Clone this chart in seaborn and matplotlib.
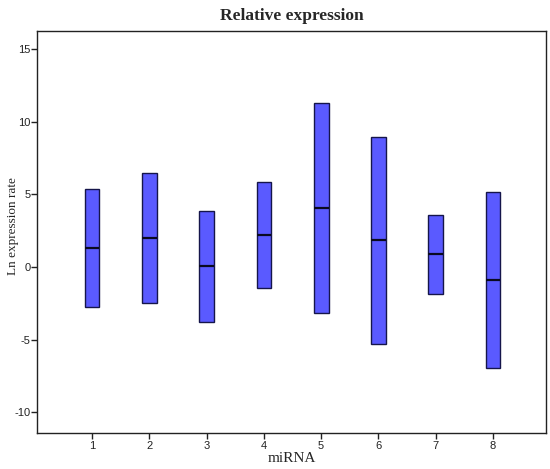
import numpy as np
import pandas as pd
import seaborn as sns
import matplotlib.pyplot as plt

mirna = ["1", "2", "3", "4", "5", "6", "7", "8"]
low = [-2.76, -2.46, -3.79, -1.45, -3.19, -5.28, -1.88, -6.94]
high = [5.38, 6.44, 3.86, 5.86, 11.29, 8.94, 3.59, 5.13]
median = [1.31, 2.00, 0.05, 2.21, 4.07, 1.84, 0.88, -0.90]

df = pd.DataFrame({"miRNA": mirna, "low": low, "high": high, "median": median})
df["range"] = df["high"] - df["low"]

sns.set_style("white")
plt.rcParams["font.family"] = ["Liberation Sans", "DejaVu Sans"]
plt.rcParams["axes.unicode_minus"] = False

fig = plt.figure(figsize=(5.5, 4.69), dpi=100)
ax = fig.add_axes([0.068, 0.0774, 0.925, 0.8571])

bar_w = 0.257
sns.barplot(data=df, x="miRNA", y="range", bottom=df["low"].values,
            width=bar_w, color="#5a5aff", saturation=1,
            edgecolor="#15154a", linewidth=1.0, ax=ax)

# median lines
xpos = np.arange(len(mirna))
ax.hlines(df["median"], xpos - bar_w / 2, xpos + bar_w / 2,
          color="#0a0a20", linewidth=1.6, zorder=3)

ax.set_xlim(-0.956, 7.93)
ax.set_ylim(-11.4, 16.25)
ax.set_yticks([-10, -5, 0, 5, 10, 15])
ax.set_xticks(xpos)
ax.set_xticklabels(mirna)

for s in ax.spines.values():
    s.set_color("#222222")
    s.set_linewidth(1.0)
ax.tick_params(axis="both", bottom=True, left=True, direction="out",
               length=4, width=1, colors="#222222", labelsize=8, pad=2)
ax.tick_params(axis="y", pad=1)

ax.set_xlabel("miRNA", family="Liberation Serif", fontsize=11, labelpad=1)
ax.set_ylabel("Ln expression rate", family="Liberation Serif", fontsize=9.5)
ax.yaxis.set_label_coords(-0.036, 0.515)
ax.set_title("Relative expression", family="Liberation Serif", fontsize=12.5,
             fontweight="bold", pad=8)

fig.savefig("out.png", dpi=100)
